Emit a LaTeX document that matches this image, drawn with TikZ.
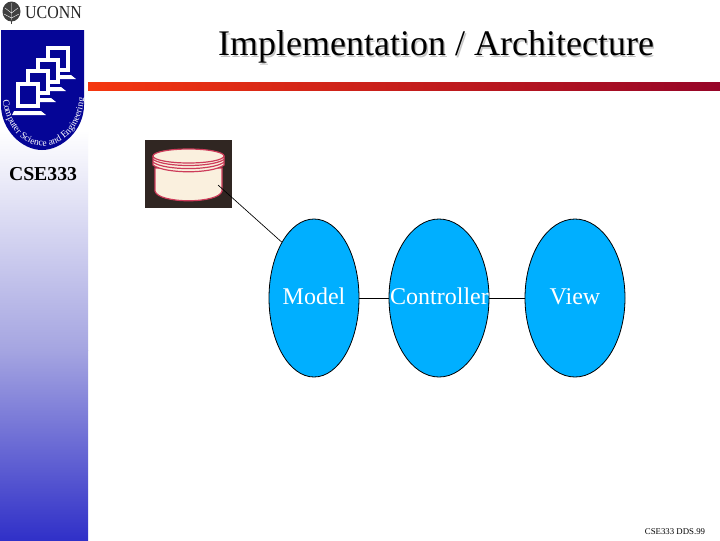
\documentclass[tikz,border=0pt]{standalone}
\usepackage{fontspec}
\setmainfont{Liberation Serif}
\usetikzlibrary{shapes.geometric,calc,decorations.text}
\definecolor{barred}{RGB}{245,55,15}
\definecolor{bardark}{RGB}{150,5,40}
\definecolor{sideblue}{RGB}{48,48,200}
\definecolor{sidemid}{RGB}{165,165,225}
\definecolor{shieldblue}{RGB}{5,5,150}
\definecolor{ovalblue}{RGB}{0,175,255}
\definecolor{dbcream}{RGB}{250,240,222}
\definecolor{dbred}{RGB}{205,60,90}
\definecolor{dbdark}{RGB}{48,38,34}
\tikzset{
  oval/.style={ellipse,draw=black,line width=0.6pt,fill=ovalblue,inner sep=0pt},
  lab/.style={font=\fontsize{18}{20}\selectfont,inner sep=0pt,text=white,anchor=base},
  link/.style={draw=black,line width=0.5pt},
  monitor/.style={draw=white,line width=2.3pt,fill=shieldblue},
  dbline/.style={draw=dbred,line width=0.9pt},
}
\newcommand{\monitorat}[2]{%
  \fill[white] (#1-4,#2+27) -- (#1+23,#2+27) -- (#1+28,#2+31) -- (#1-6,#2+31) -- cycle;
  \draw[monitor] (#1,#2) rectangle (#1+20,#2+22);
}
\begin{document}
\begin{tikzpicture}[x=0.75pt,y=-0.75pt]
\useasboundingbox (0,0) rectangle (720,540);
\fill[white] (0,0) rectangle (720,540);
% sidebar
\shade[top color=white,bottom color=sidemid] (0,130) rectangle (88,350);
\shade[top color=sidemid,bottom color=sideblue] (0,350) rectangle (88,540);
% red bar
\shade[left color=barred,right color=bardark] (88,82) rectangle (720,90);
% UCONN logo
\fill[black!75] (11.5,11.5) ellipse (9 and 10);
\draw[black!75,line width=1pt] (11.5,20) -- (11.5,23.5);
\draw[white,line width=0.3pt] (11.5,3) -- (11.5,20) (5,8) -- (11.5,13) -- (18,8) (4,14) -- (11.5,18) -- (19,14);
\node[anchor=west,inner sep=0pt,xscale=0.87,font=\fontsize{13.7}{15}\selectfont,text=black!85] (uconn) at (25,12.5) {UCONN};
% shield
\fill[shieldblue] (1,30) -- (84,30) -- (84,105)
  .. controls (84,130) and (62,150) .. (42,150)
  .. controls (22,150) and (1,130) .. (1,105) -- cycle;
\monitorat{48}{48}
\monitorat{38}{60}
\monitorat{28}{71}
\monitorat{18}{84}
% curved shield lettering
\path[decorate,decoration={text along path,text align=center,
  text={|\fontsize{7.2}{8}\selectfont\color{white}|Computer Science and Engineering}}]
  (3,102) .. controls (8,132) and (26,146) .. (43,146)
  .. controls (62,146) and (80,130) .. (84,100);
\node[font=\bfseries\fontsize{14.8}{16}\selectfont,inner sep=0pt] (course) at (43,174) {CSE333};
% title
\node[inner sep=0pt,font=\fontsize{27}{30}\selectfont] (title) at (436,48)
  {\rlap{\kern1.1pt\raisebox{-1.1pt}{\textcolor{black!22}{Implementation / Architecture}}}Implementation / Architecture};
% database picture
\node[minimum width=65.25pt,minimum height=51pt,fill=dbdark,inner sep=0pt] (db) at (188.5,174) {};
\fill[dbcream,dbline] (155,168) -- (155,191)
  .. controls (158,204) and (219,204) .. (222,191) -- (222,168) -- cycle;
\fill[dbcream,dbline] (153,156.5) -- (153,165)
  .. controls (165,174) and (212,174) .. (224,165) -- (224,156.5) -- cycle;
\fill[dbcream,dbline] (188.5,156) ellipse (35.5 and 7);
\draw[dbline] (153,159.5) .. controls (165,167.5) and (212,167.5) .. (224,159.5);
\draw[dbline] (153,162.2) .. controls (165,170.7) and (212,170.7) .. (224,162.2);
\coordinate (dbp) at (218,185);
% ovals
\node[oval,minimum width=67.5pt,minimum height=118.5pt] (model) at (314,298) {};
\node[oval,minimum width=75pt,minimum height=118.5pt] (ctrl) at (439,298) {};
\node[oval,minimum width=75pt,minimum height=118.5pt] (view) at (575,298) {};
\node[lab] (modeltext) at (314,304) {Model};
\node[lab] (ctrltext) at (439.5,304) {Controller};
\node[lab] (viewtext) at (575,304) {View};
% connectors
\draw[link] (dbp) -- (model.120);
\draw[link] (model) -- (ctrl);
\draw[link] (ctrl) -- (view);
% footer
\node[inner sep=0pt,font=\fontsize{6.6}{7}\selectfont] (foot) at (675,532) {CSE333 DDS.99};
\end{tikzpicture}
\end{document}
